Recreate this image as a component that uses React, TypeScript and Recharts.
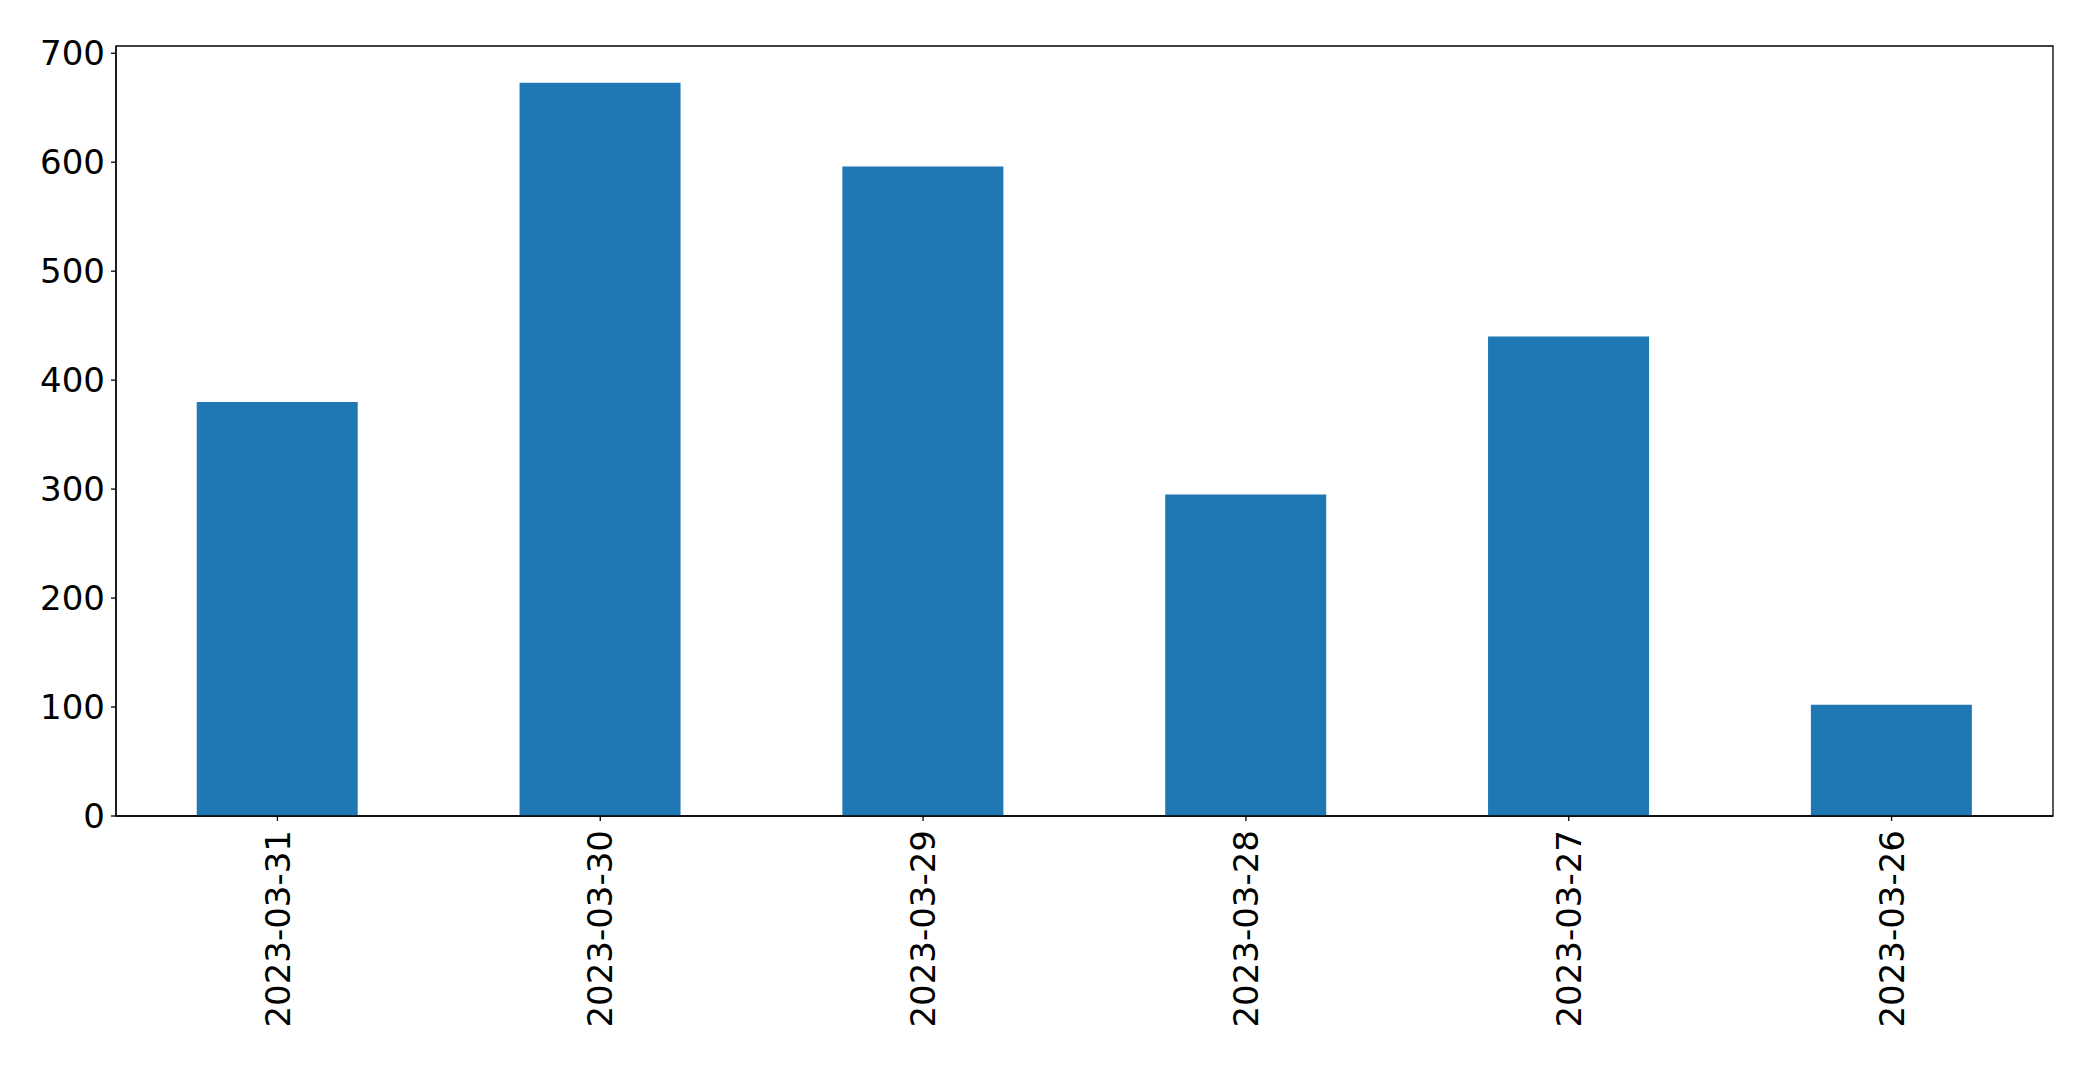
import { BarChart, Bar, XAxis, YAxis, ReferenceArea } from 'recharts';

const DATES = ['2023-03-31', '2023-03-30', '2023-03-29', '2023-03-28', '2023-03-27', '2023-03-26'];
const COUNTS = [380, 673, 596, 295, 440, 102];
const Y_TICKS = [0, 100, 200, 300, 400, 500, 600, 700];

const data = DATES.map((date, i) => ({ date, count: COUNTS[i] }));
// matplotlib-style 5% headroom above the tallest bar
const yMax = Math.max(...COUNTS) * 1.05;

const FONT = '"DejaVu Sans", sans-serif';

function RotatedTick(props: any) {
  const { x, y, payload } = props;
  return (
    <text
      x={x}
      y={y}
      transform={`rotate(-90, ${x}, ${y})`}
      textAnchor="end"
      dy="0.36em"
      fontSize={34}
      fontFamily={FONT}
      fill="#000"
    >
      {payload.value}
    </text>
  );
}

export default function App() {
  return (
    <div style={{ position: 'absolute', left: 0, top: 0, background: '#fff' }}>
      <BarChart
        width={2093}
        height={1068}
        data={data}
        margin={{ top: 46, right: 40, bottom: 0, left: 0 }}
        barCategoryGap="25%"
      >
        <XAxis
          dataKey="date"
          height={252}
          tickSize={5}
          tickMargin={9}
          tick={<RotatedTick />}
          axisLine={{ stroke: '#000', strokeWidth: 1.3 }}
          tickLine={{ stroke: '#000', strokeWidth: 1.3 }}
          interval={0}
        />
        <YAxis
          width={116}
          domain={[0, yMax]}
          ticks={Y_TICKS}
          tickSize={5}
          tickMargin={6}
          interval={0}
          tick={{ fontSize: 34, fontFamily: FONT, fill: '#000' }}
          axisLine={{ stroke: '#000', strokeWidth: 1.3 }}
          tickLine={{ stroke: '#000', strokeWidth: 1.3 }}
        />
        <Bar dataKey="count" fill="#1f77b4" isAnimationActive={false} />
        {/* axes frame (top and right spines) */}
        <ReferenceArea
          y1={0}
          y2={yMax}
          fill="none"
          fillOpacity={0}
          stroke="#000"
          strokeWidth={1.3}
          strokeOpacity={1}
        />
      </BarChart>
    </div>
  );
}
